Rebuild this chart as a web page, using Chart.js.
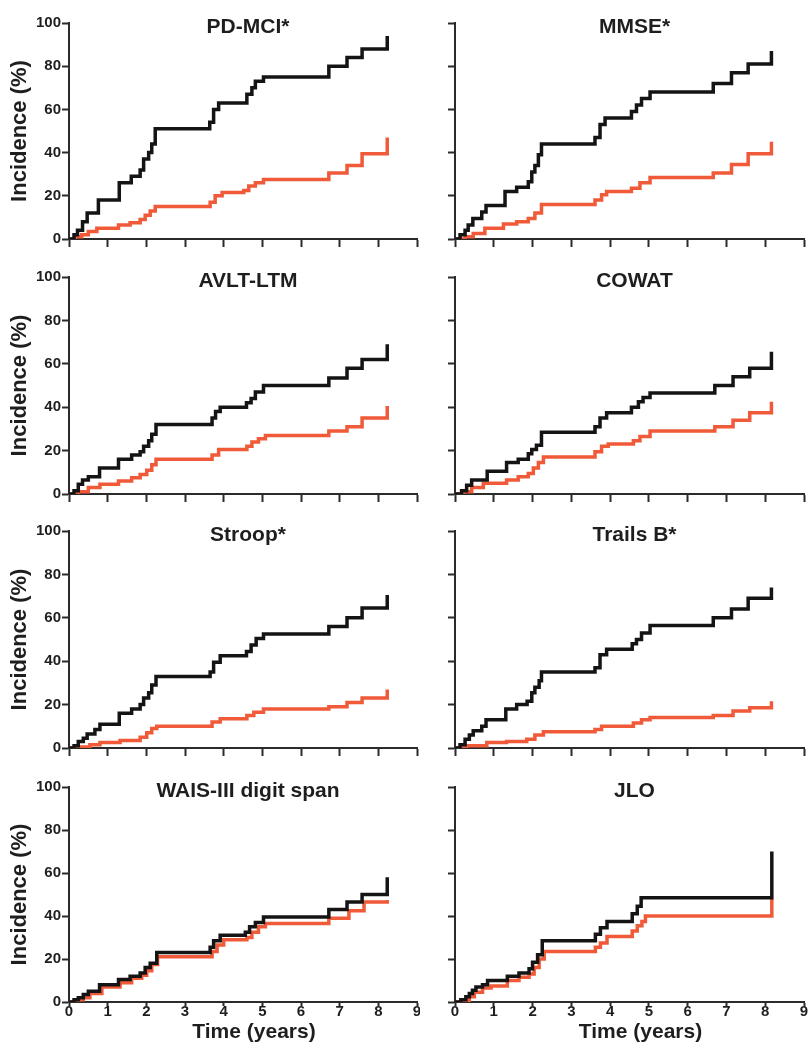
<!DOCTYPE html>
<html>
<head>
<meta charset="utf-8">
<script src="https://cdn.jsdelivr.net/npm/chart.js@4.4.0/dist/chart.umd.min.js"></script>
<style>
  html, body { margin: 0; padding: 0; background: #fff; }
  #wrap { position: relative; width: 811px; height: 1047px; overflow: hidden; }
  canvas { position: absolute; }
</style>
</head>
<body>
<div id="wrap"></div>
<script>
const panelTitles = ['PD-MCI*', 'MMSE*', 'AVLT-LTM', 'COWAT', 'Stroop*', 'Trails B*', 'WAIS-III digit span', 'JLO'];
const yTicks = [0, 20, 40, 60, 80, 100];
const xTicks = [0, 1, 2, 3, 4, 5, 6, 7, 8, 9];
const yAxisLabel = 'Incidence (%)';
const xAxisLabel = 'Time (years)';

// step curves, [years, incidence %]; black = upper curve, red = lower curve
const pdMciBlack = [[0,0],[0.13,2],[0.22,4],[0.35,8],[0.47,12],[0.76,18],[1.30,26],[1.61,29],[1.84,32],[1.93,37],[2.06,40],[2.14,44],[2.23,51],[3.64,54],[3.74,60],[3.87,63],[4.60,67],[4.73,70],[4.82,73],[5.03,75],[6.72,80],[7.19,84],[7.58,88],[8.23,94]];
const pdMciRed = [[0,0],[0.16,1],[0.33,2],[0.50,3.5],[0.72,5],[1.28,6.5],[1.58,7.5],[1.84,9],[1.97,11],[2.10,13],[2.23,15],[3.65,17],[3.78,20],[3.96,21.5],[4.52,22.5],[4.65,24.5],[4.82,26],[5.03,27.5],[6.72,30.5],[7.19,34],[7.58,39.5],[8.23,47]];

const mmseBlack = [[0,0],[0.13,2],[0.26,4],[0.34,6.5],[0.46,9.5],[0.69,12.5],[0.80,15.5],[1.29,22],[1.59,24],[1.89,26.5],[1.98,31],[2.06,34],[2.15,39],[2.23,44],[3.61,47],[3.74,53],[3.87,56],[4.55,59],[4.68,62],[4.81,65],[5.03,68],[6.66,72],[7.13,77],[7.56,81],[8.16,87]];
const mmseRed = [[0,0],[0.26,1],[0.47,2.5],[0.77,5],[1.25,7],[1.59,8],[1.89,9.5],[2.06,12],[2.23,16],[3.61,18],[3.78,20.5],[3.91,22],[4.55,23.5],[4.77,26],[5.03,28.5],[6.66,30.5],[7.13,34.5],[7.56,39.5],[8.16,45]];

const avltBlack = [[0,0],[0.13,1.5],[0.24,4.5],[0.35,6.5],[0.50,8],[0.79,12],[1.28,16],[1.62,18],[1.84,19.5],[1.93,22],[2.06,24.5],[2.14,27.5],[2.25,32],[3.70,35],[3.79,38],[3.91,40],[4.59,42],[4.71,44],[4.82,47],[5.03,50],[6.72,53.5],[7.19,58],[7.58,62],[8.23,69]];
const avltRed = [[0,0],[0.24,1],[0.50,3],[0.80,4.5],[1.28,6],[1.62,7.5],[1.84,9],[2.01,11],[2.14,13.5],[2.25,16],[3.70,18],[3.87,20.5],[4.60,22],[4.73,24],[4.90,25.5],[5.08,27],[6.72,29],[7.19,31],[7.58,35],[8.23,40.5]];

const cowatBlack = [[0,0],[0.17,1.5],[0.30,4],[0.43,6.5],[0.83,10.5],[1.33,14.5],[1.63,16],[1.89,18.5],[1.98,20.5],[2.10,22.5],[2.23,28.5],[3.61,31],[3.74,35],[3.91,37.5],[4.55,40],[4.73,42.5],[4.85,44.5],[5.03,46.5],[6.70,50],[7.17,54],[7.60,58],[8.16,65.5]];
const cowatRed = [[0,0],[0.21,1],[0.43,3],[0.73,5],[1.33,6.5],[1.63,8],[1.89,9.5],[2.02,12],[2.15,14.5],[2.28,17],[3.61,19.5],[3.78,22],[3.95,23],[4.60,24.5],[4.77,26.5],[5.03,29],[6.70,31],[7.17,34],[7.60,37.5],[8.16,42.5]];

const stroopBlack = [[0,0],[0.13,1],[0.24,3],[0.37,4.5],[0.47,6.5],[0.67,8.5],[0.80,11],[1.30,16],[1.62,18],[1.84,20],[1.93,23],[2.06,25.5],[2.14,29],[2.25,33],[3.65,35],[3.74,39.5],[3.91,42.5],[4.59,44.5],[4.71,47.5],[4.84,50.5],[5.03,52.5],[6.72,56],[7.19,60],[7.58,64.5],[8.23,70.5]];
const stroopRed = [[0,0],[0.28,0.5],[0.54,1.5],[0.80,2.5],[1.32,3.5],[1.84,5],[2.01,7],[2.14,9],[2.27,10],[3.70,12],[3.91,13.5],[4.60,15],[4.78,16.5],[5.03,18],[6.72,19],[7.19,21],[7.58,23],[8.23,27]];

const trailsBlack = [[0,0],[0.13,1.5],[0.26,4],[0.37,6],[0.47,8],[0.69,10],[0.80,13],[1.31,18],[1.59,20],[1.86,21.5],[1.98,25.5],[2.06,28],[2.17,31],[2.23,35],[3.61,37],[3.74,43],[3.91,45.5],[4.57,48],[4.68,50],[4.81,53],[5.03,56.5],[6.66,60],[7.13,64],[7.56,69],[8.16,74]];
const trailsRed = [[0,0],[0.30,1],[0.82,2.5],[1.33,3],[1.85,4],[2.06,6],[2.28,7.5],[3.61,8.5],[3.78,10],[4.60,11.5],[4.81,13],[5.03,14],[6.66,15],[7.17,17],[7.60,18.5],[8.16,21.5]];

const waisBlack = [[0,0],[0.13,1],[0.24,2],[0.37,3.5],[0.50,5],[0.79,8],[1.28,10.5],[1.58,12],[1.84,13.5],[1.97,16],[2.10,18],[2.27,23],[3.65,25.5],[3.74,28.5],[3.91,31],[4.56,32.5],[4.67,35],[4.82,37],[5.03,39.5],[6.72,43],[7.19,46.5],[7.58,50],[8.23,58]];
const waisRed = [[0,0],[0.24,1],[0.37,2],[0.54,4],[0.85,7],[1.32,9],[1.62,11],[1.88,12.5],[2.01,14.5],[2.14,17.5],[2.29,21],[3.70,23.5],[3.83,26.5],[4.00,29],[4.60,30],[4.73,32.5],[4.90,35],[5.08,36.5],[6.72,39],[7.24,42.5],[7.63,46.5],[8.23,47.5]];

const jloBlack = [[0,0],[0.15,1],[0.28,2.5],[0.37,4],[0.45,5.5],[0.54,7],[0.71,8],[0.84,10],[1.35,12],[1.65,13.5],[1.91,15.5],[2.00,18.5],[2.13,22],[2.25,28.5],[3.62,31.5],[3.75,34.5],[3.92,37.5],[4.57,41],[4.70,44.5],[4.80,48.5],[8.17,70]];
const jloRed = [[0,0],[0.20,0.5],[0.37,2.5],[0.50,4.5],[0.71,6.5],[0.93,7.5],[1.35,10],[1.65,11.5],[1.91,13],[2.04,16],[2.17,20],[2.30,23.5],[3.62,25.5],[3.75,27.5],[3.92,30.5],[4.57,33],[4.70,35.5],[4.82,37.5],[4.91,40],[8.17,48]];

const blackSeries = [pdMciBlack, mmseBlack, avltBlack, cowatBlack, stroopBlack, trailsBlack, waisBlack, jloBlack];
const redSeries = [pdMciRed, mmseRed, avltRed, cowatRed, stroopRed, trailsRed, waisRed, jloRed];

const BLACK = '#141414';
const RED = '#f05a38';
const AXIS = '#2b2b2b';
const TEXT = '#1e1e1e';
const FONT = '"Liberation Sans", Arial, Helvetica, sans-serif';

// page layout of the 4x2 grid
const rowTop = [0, 254, 508, 762];
const rowHeight = [254, 254, 254, 285];
const plotTop = [23, 23, 23, 25];
const plotBottom = [239, 240, 240, 240];

Chart.defaults.font.family = FONT;

const panelText = {
  id: 'panelText',
  afterDraw(chart, args, opts) {
    const {ctx, chartArea} = chart;
    const cx = (chartArea.left + chartArea.right) / 2;
    ctx.save();
    ctx.fillStyle = TEXT;
    ctx.textAlign = 'center';
    ctx.font = 'bold 21px ' + FONT;
    ctx.textBaseline = 'alphabetic';
    ctx.fillText(opts.title, cx + 5, chartArea.top + 10);
    if (opts.xLabel) {
      ctx.font = 'bold 21px ' + FONT;
      ctx.textBaseline = 'middle';
      ctx.fillText(opts.xLabel, cx + 11, chartArea.bottom + 30);
    }
    ctx.restore();
  }
};

function toXY(arr) {
  return arr.map(p => ({x: p[0], y: p[1]}));
}

const wrap = document.getElementById('wrap');

function makePanel(i) {
  const row = Math.floor(i / 2), col = i % 2;
  const isLeft = col === 0, isBottom = row === 3;
  const width = isLeft ? 420 : 391;
  const height = rowHeight[row];

  const canvas = document.createElement('canvas');
  canvas.width = width;
  canvas.height = height;
  canvas.style.left = (isLeft ? 0 : 420) + 'px';
  canvas.style.top = rowTop[row] + 'px';
  canvas.style.width = width + 'px';
  canvas.style.height = height + 'px';
  wrap.appendChild(canvas);

  new Chart(canvas, {
    type: 'line',
    data: {
      datasets: [{
        label: 'upper',
        data: toXY(blackSeries[i]),
        borderColor: BLACK,
        borderWidth: 3.5,
        stepped: true,
        pointRadius: 0,
        fill: false
      }, {
        label: 'lower',
        data: toXY(redSeries[i]),
        borderColor: RED,
        borderWidth: 3.5,
        stepped: true,
        pointRadius: 0,
        fill: false
      }]
    },
    options: {
      responsive: false,
      animation: false,
      layout: {padding: {top: plotTop[row], right: isLeft ? 3 : 7, left: 0, bottom: 0}},
      plugins: {
        legend: {display: false},
        tooltip: {enabled: false},
        panelText: {title: panelTitles[i], xLabel: isBottom ? xAxisLabel : null}
      },
      scales: {
        x: {
          type: 'linear',
          min: 0,
          max: 9,
          afterBuildTicks: s => { s.ticks = xTicks.map(v => ({value: v})); },
          afterFit: s => { s.height = height - plotBottom[row]; },
          border: {display: true, color: AXIS, width: 2},
          grid: {drawOnChartArea: false, drawTicks: true, tickLength: isBottom ? 4 : 8, tickColor: AXIS, tickWidth: 2},
          ticks: {display: isBottom, color: TEXT, font: {size: 15, weight: 'bold'}, padding: -3, maxRotation: 0, autoSkip: false}
        },
        y: {
          type: 'linear',
          min: 0,
          max: 100,
          afterBuildTicks: s => { s.ticks = yTicks.map(v => ({value: v})); },
          afterFit: s => { s.width = isLeft ? 69 : 35; },
          border: {display: true, color: AXIS, width: 2},
          grid: {drawOnChartArea: false, drawTicks: true, tickLength: 7, tickColor: AXIS, tickWidth: 2},
          ticks: {display: isLeft, color: TEXT, font: {size: 15, weight: 'bold'}, padding: 1},
          title: {display: isLeft, text: yAxisLabel, color: TEXT, font: {size: 22, weight: 'bold'}, padding: {top: 7, bottom: 0}}
        }
      }
    },
    plugins: [panelText]
  });
}

for (let i = 0; i < panelTitles.length; i++) {
  makePanel(i);
}
</script>
</body>
</html>
